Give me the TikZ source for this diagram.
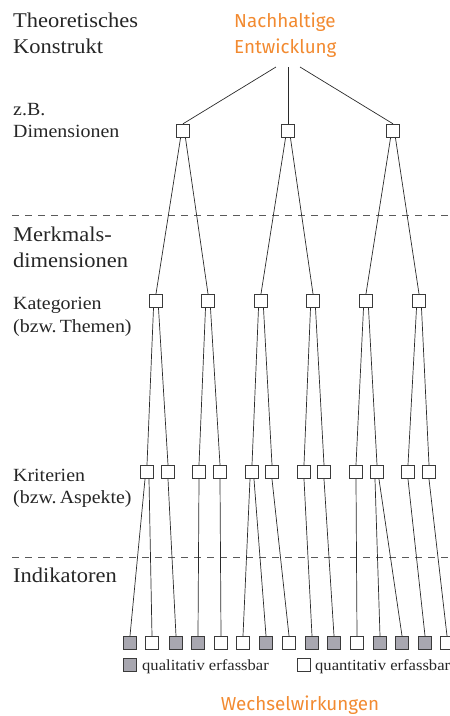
\documentclass[tikz,border=0pt]{standalone}
\usepackage{fontspec}
\setmainfont{Liberation Serif}[FakeStretch=1.07]
\newfontfamily\accentfont{Fira Sans}
\definecolor{accent}{HTML}{F28A30}
\definecolor{qualfill}{HTML}{A8A7B0}
\definecolor{boxline}{HTML}{3A3A3A}
\definecolor{linkline}{HTML}{2A2A2A}
\definecolor{sepline}{HTML}{5A5A5A}
\definecolor{labeltext}{HTML}{262626}
\tikzset{
  unitbox/.style={draw=boxline, line width=0.9pt, minimum size=13.5pt, inner sep=0pt, fill=white},
  qualbox/.style={unitbox, fill=qualfill},
  quantbox/.style={unitbox, fill=white},
  link/.style={draw=linkline, line width=0.7pt},
  sepdash/.style={draw=sepline, line width=0.9pt, dash pattern=on 7pt off 6pt},
  biglabel/.style={anchor=base west, inner sep=0pt, text=labeltext, font=\fontsize{21}{26}\selectfont},
  midlabel/.style={anchor=base west, inner sep=0pt, text=labeltext, font=\fontsize{18.6}{22}\selectfont},
  keylabel/.style={anchor=base west, inner sep=0pt, text=labeltext, font=\fontsize{15.5}{18}\selectfont},
  accentlabel/.style={inner sep=0pt, text=accent, font=\accentfont\fontsize{18.8}{26}\selectfont}
}
\begin{document}
\begin{tikzpicture}[x=1pt, y=-1pt]
  \useasboundingbox (0,0) rectangle (450,716);
  \clip (0,0) rectangle (450,716);

  % level labels on the left
  \node[biglabel] (theoA) at (13,27) {Theoretisches};
  \node[biglabel] (theoB) at (13,53) {Konstrukt};
  \node[midlabel] (dimA) at (13,115) {z.B.};
  \node[midlabel] (dimB) at (13,137) {Dimensionen};
  \node[biglabel] (merkA) at (13,241) {Merkmals-};
  \node[biglabel] (merkB) at (13,267) {dimensionen};
  \node[midlabel] (katA) at (13,309) {Kategorien};
  \node[midlabel] (katB) at (13,332) {(bzw.\,Themen)};
  \node[midlabel] (kritA) at (13,481) {Kriterien};
  \node[midlabel] (kritB) at (13,503) {(bzw.\,Aspekte)};
  \node[biglabel] (indi) at (13,582) {Indikatoren};

  % separators
  \coordinate (sepAw) at (12,215.5);
  \coordinate (sepAe) at (452,215.5);
  \coordinate (sepBw) at (12,557.5);
  \coordinate (sepBe) at (452,557.5);
  \draw[sepdash] (sepAw) -- (sepAe);
  \draw[sepdash] (sepBw) -- (sepBe);

  % root concept
  \node[accentlabel, anchor=base west] (rootA) at (234,27) {Nachhaltige};
  \node[accentlabel, anchor=base west] (rootB) at (234,53) {Entwicklung};
  \coordinate (rootL) at (276,67);
  \coordinate (rootM) at (288,67);
  \coordinate (rootR) at (300,67);

  % dimensions
  \foreach \n/\x in {1/183, 2/288, 3/393}
    \node[unitbox] (D\n) at (\x,131) {};

  % categories
  \foreach \n/\x in {1/156, 2/208, 3/261, 4/313, 5/366, 6/419}
    \node[unitbox] (K\n) at (\x,301) {};

  % criteria
  \foreach \n/\x in {1/147, 2/168, 3/199, 4/220, 5/252, 6/272,
                     7/304, 8/324, 9/356, 10/377, 11/408, 12/429}
    \node[unitbox] (C\n) at (\x,472) {};

  % indicators, filled = qualitative, open = quantitative
  \foreach \n/\x/\t in {1/130/qualbox, 2/152/quantbox, 3/176/qualbox,
                        4/198/qualbox, 5/221/quantbox, 6/243/quantbox,
                        7/266/qualbox, 8/289/quantbox, 9/312/qualbox,
                        10/334/qualbox, 11/357/quantbox, 12/380/qualbox,
                        13/402/qualbox, 14/425/qualbox, 15/447/quantbox}
    \node[\t] (I\n) at (\x,643) {};

  % root to dimensions
  \draw[link] (rootL) -- (D1.north);
  \draw[link] (rootM) -- (D2.north);
  \draw[link] (rootR) -- (D3.north);

  % dimensions to categories
  \foreach \d/\a/\b in {1/1/2, 2/3/4, 3/5/6} {
    \draw[link] ([xshift=-2.5pt]D\d.south) -- (K\a.north);
    \draw[link] ([xshift=2.5pt]D\d.south) -- (K\b.north);
  }

  % categories to criteria
  \foreach \k/\a/\b in {1/1/2, 2/3/4, 3/5/6, 4/7/8, 5/9/10, 6/11/12} {
    \draw[link] ([xshift=-2.5pt]K\k.south) -- (C\a.north);
    \draw[link] ([xshift=2.5pt]K\k.south) -- (C\b.north);
  }

  % criteria to indicators
  \draw[link] ([xshift=-2pt]C1.south) -- (I1.north);
  \draw[link] ([xshift=2pt]C1.south) -- (I2.north);
  \draw[link] (C2.south) -- (I3.north);
  \draw[link] (C3.south) -- (I4.north);
  \draw[link] (C4.south) -- (I5.north);
  \draw[link] ([xshift=-2pt]C5.south) -- (I6.north);
  \draw[link] ([xshift=2pt]C5.south) -- (I7.north);
  \draw[link] (C6.south) -- (I8.north);
  \draw[link] (C7.south) -- (I9.north);
  \draw[link] (C8.south) -- (I10.north);
  \draw[link] (C9.south) -- (I11.north);
  \draw[link] ([xshift=-2pt]C10.south) -- (I12.north);
  \draw[link] ([xshift=2pt]C10.south) -- (I13.north);
  \draw[link] (C11.south) -- (I14.north);
  \draw[link] (C12.south) -- (I15.north);

  % key
  \node[qualbox] (keyQual) at (130,665) {};
  \node[keylabel] (keyQualText) at (142,670) {qualitativ erfassbar};
  \node[quantbox] (keyQuant) at (304,665) {};
  \node[keylabel] (keyQuantText) at (315,670) {quantitativ erfassbar};

  % footer
  \node[accentlabel, anchor=base] (footer) at (300,710) {Wechselwirkungen};
\end{tikzpicture}
\end{document}
